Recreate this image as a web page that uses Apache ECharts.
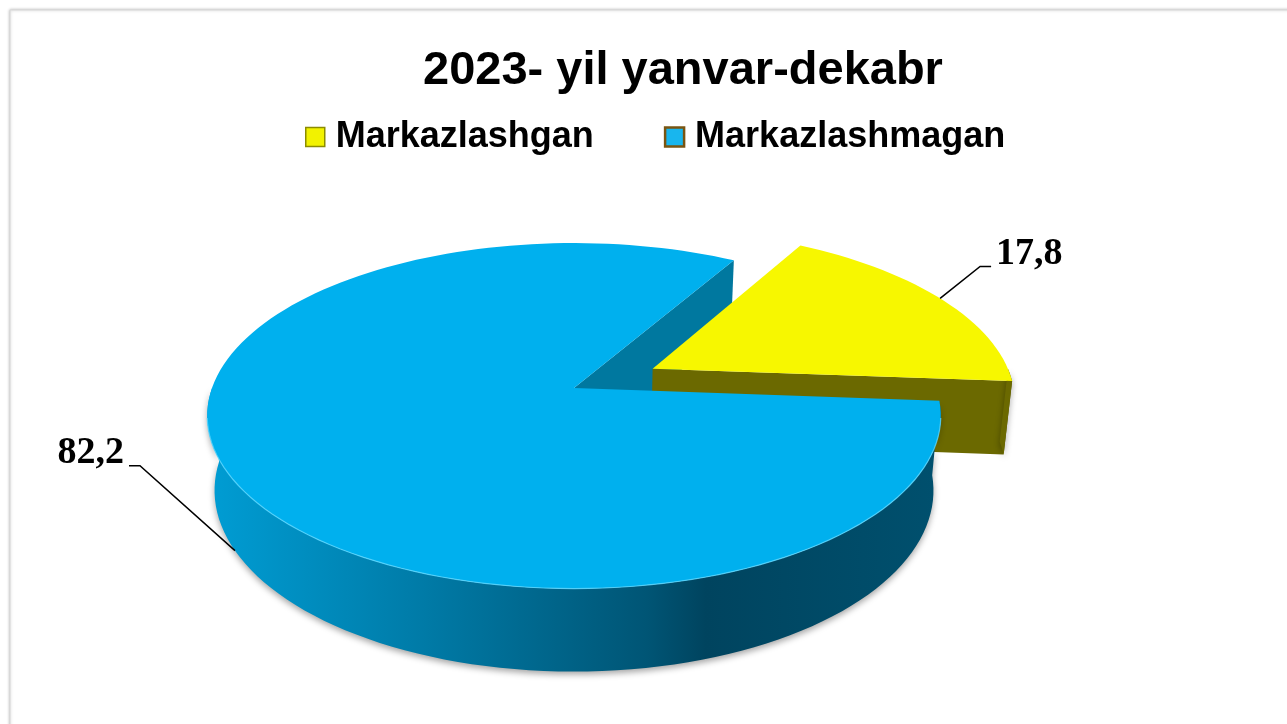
<html>
<head>
    <meta charset="utf-8">
    <title>Chart</title>
    <script src="https://cdn.jsdelivr.net/npm/echarts@6/dist/echarts.min.js"></script>
    <style>
        html, body { margin: 0; padding: 0; width: 100%; height: 100%; background: #fff; }
        #main { width: 1287px; height: 724px; }
    </style>
</head>
<body>
    <div id="main"></div>
    <script type="text/javascript">
        // data
        var names = ['Markazlashgan', 'Markazlashmagan'];
        var values = [17.8, 82.2];
        var labels = ['17,8', '82,2'];

        // 3D pie layout (screen px / unit radius)
        var CX = 574, CY = 388, R = 362;
        var TILT = 27.7 * Math.PI / 180;   // camera elevation
        var DIST = 5.5;                    // camera distance, perspective
        var DEPTH = 0.235;                 // thickness of the pie
        var START = 59.8;                  // angle of first slice edge, clockwise
        var explode = [0.25, 0];
        var topColors = ['#F7F700', '#00B0EE'];
        var cutColors = ['#6B6900', '#00789F'];
        var sideColors = ['#6B6900', {
            type: 'linear', x: 0, y: 0, x2: 1, y2: 0,
            colorStops: [
                { offset: 0, color: '#009DD4' },
                { offset: 0.3, color: '#007AA6' },
                { offset: 0.6, color: '#005575' },
                { offset: 0.68, color: '#00445F' },
                { offset: 1, color: '#00506E' }
            ]
        }];
        var labelOffset = [[40, -32], [-95, -85]];

        var total = values.reduce(function (a, b) { return a + b; }, 0);

        function proj(X, Y, Z) {
            var sa = Math.sin(TILT), ca = Math.cos(TILT);
            var yv = Z * sa - Y * ca, zv = Z * ca + Y * sa;
            var s = DIST / (DIST - zv);
            return [CX + R * X * s, CY + R * yv * s];
        }

        // angles of slice i, counter-clockwise from a0 to a1
        function sliceAngles(i) {
            var before = 0;
            for (var k = 0; k < i; k++) before += values[k];
            var a1 = START - before / total * 360;
            var a0 = a1 - values[i] / total * 360;
            return [a0, a1];
        }

        function sliceOrigin(i) {
            var a = sliceAngles(i), mid = (a[0] + a[1]) / 2 * Math.PI / 180;
            return [explode[i] * Math.cos(mid), -explode[i] * Math.sin(mid)];
        }

        function pt(i, th, r, Y) {
            var o = sliceOrigin(i), t = th * Math.PI / 180;
            return proj(o[0] + r * Math.cos(t), Y, o[1] - r * Math.sin(t));
        }

        function arc(i, a, b, Y) {
            var pts = [], n = Math.max(2, Math.ceil(Math.abs(b - a) / 2));
            for (var k = 0; k <= n; k++) pts.push(pt(i, a + (b - a) * k / n, 1, Y));
            return pts;
        }

        // nearness of a slice to the viewer, used for drawing order
        function nearest(i) {
            var a = sliceAngles(i), o = sliceOrigin(i), best = -9;
            for (var th = a[0]; th <= a[1]; th += 1) {
                best = Math.max(best, o[1] - Math.sin(th * Math.PI / 180));
            }
            return best;
        }
        var order = names.map(function (n, i) { return i; })
            .sort(function (p, q) { return nearest(p) - nearest(q); });

        function makeRender(i) {
            return function (params, api) {
                var a = sliceAngles(i), a0 = a[0], a1 = a[1];
                var o = sliceOrigin(i);
                var rank = order.indexOf(i);
                var children = [];
                var ct = proj(o[0], 0, o[1]), cb = proj(o[0], -DEPTH, o[1]);

                // cut faces
                [[a0, 1], [a1, -1]].forEach(function (e) {
                    var c = Math.cos(e[0] * Math.PI / 180) * e[1];
                    if (c <= 0) return;
                    var t = e[0] * Math.PI / 180;
                    var zMid = o[1] - 0.5 * Math.sin(t);
                    children.push({
                        type: 'polygon', z2: 1 + (zMid + 2) * 0.1,
                        shape: { points: [ct, pt(i, e[0], 1, 0), pt(i, e[0], 1, -DEPTH), cb] },
                        style: { fill: cutColors[i] }
                    });
                });

                // outer side, front half only
                for (var k = -2; k <= 1; k++) {
                    var s = Math.max(a0, 180 + 360 * k), e = Math.min(a1, 360 + 360 * k);
                    if (e <= s) continue;
                    var pts = arc(i, s, e, 0).concat(arc(i, e, s, -DEPTH));
                    children.push({
                        type: 'polygon', z2: 3 + rank * 2,
                        shape: { points: pts },
                        style: {
                            fill: sideColors[i],
                            shadowBlur: 6, shadowColor: 'rgba(0,0,0,0.35)', shadowOffsetY: 3
                        }
                    });
                }

                // top face
                children.push({
                    type: 'polygon', z2: 4 + rank * 2,
                    shape: { points: [ct].concat(arc(i, a0, a1, 0)) },
                    style: { fill: topColors[i] }
                });
                // light rim on the front edge of the top face
                for (var k2 = -2; k2 <= 1; k2++) {
                    var s2 = Math.max(a0, 190 + 360 * k2), e2 = Math.min(a1, 350 + 360 * k2);
                    if (e2 <= s2) continue;
                    children.push({
                        type: 'polyline', z2: 4.5 + rank * 2,
                        shape: { points: arc(i, s2, e2, 0) },
                        style: { stroke: 'rgba(90,215,255,0.8)', lineWidth: 1.2, fill: null }
                    });
                }

                // label with leader line
                var mid = (a0 + a1) / 2;
                var zm = -Math.sin(mid * Math.PI / 180);
                var anchor = pt(i, mid, 1, zm > 0.2 ? -DEPTH : 0);
                var off = labelOffset[i];
                var elbow = [anchor[0] + off[0], anchor[1] + off[1]];
                var dir = off[0] > 0 ? 1 : -1;
                var legEnd = [elbow[0] + dir * 11, elbow[1]];
                children.push({
                    type: 'polyline', z2: 20,
                    shape: { points: [anchor, elbow, legEnd] },
                    style: { stroke: '#000', lineWidth: 1.5, fill: null }
                });
                children.push({
                    type: 'text', z2: 20,
                    x: legEnd[0] + dir * 5, y: elbow[1] - 12,
                    style: {
                        text: labels[i],
                        font: 'bold 38px "Liberation Serif"',
                        fill: '#000',
                        textAlign: dir > 0 ? 'left' : 'right',
                        textVerticalAlign: 'middle'
                    }
                });
                return { type: 'group', children: children };
            };
        }

        var myChart = echarts.init(document.getElementById('main'));

        var option = {
            animation: false,
            backgroundColor: '#fff',
            title: {
                text: '2023- yil yanvar-dekabr',
                left: 418,
                top: 43,
                textStyle: {
                    fontFamily: 'Liberation Sans',
                    fontSize: 47,
                    fontWeight: 'bold',
                    color: '#000'
                }
            },
            legend: {
                left: 305,
                top: 119,
                padding: 0,
                itemWidth: 19,
                itemHeight: 19,
                itemGap: 70,
                textStyle: {
                    fontFamily: 'Liberation Sans',
                    fontSize: 36,
                    fontWeight: 'bold',
                    color: '#000',
                    padding: [0, 0, 0, 6]
                },
                data: [
                    { name: names[0], icon: 'rect', itemStyle: { color: '#F2F200', borderColor: '#8C8C00', borderWidth: 1.5 } },
                    { name: names[1], icon: 'rect', itemStyle: { color: '#18B6EE', borderColor: '#7A5512', borderWidth: 2.5 } }
                ]
            },
            graphic: [{
                type: 'rect', z: -10,
                shape: { x: 10, y: 10, width: 1400, height: 900 },
                style: {
                    fill: '#fff', stroke: '#d8d8d8', lineWidth: 1,
                    shadowColor: 'rgba(0,0,0,0.25)', shadowBlur: 3
                }
            }],
            series: names.map(function (n, i) {
                return {
                    name: n,
                    type: 'custom',
                    coordinateSystem: 'none',
                    itemStyle: { color: topColors[i] },
                    renderItem: makeRender(i),
                    data: [values[i]]
                };
            })
        };
        myChart.setOption(option);
    </script>
</body>
</html>
